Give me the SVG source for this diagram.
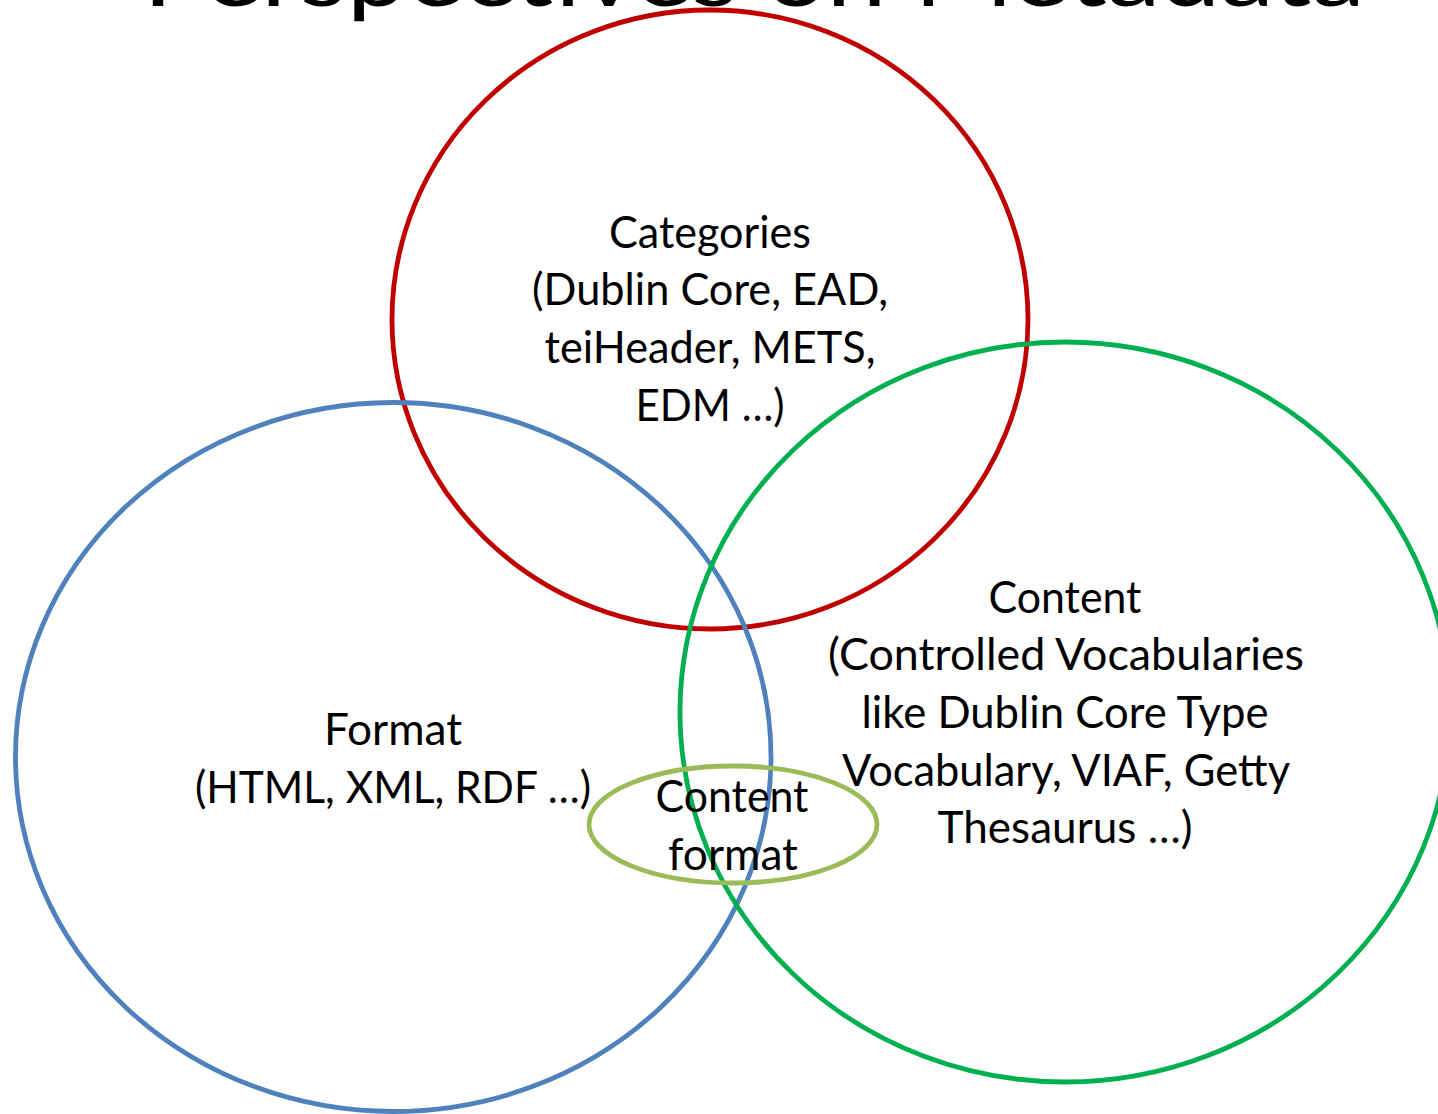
<svg xmlns="http://www.w3.org/2000/svg" width="1438" height="1114" viewBox="0 0 1438 1114">
  <style>
    .lbl { font-family: Lato, "Open Sans", "Liberation Sans", sans-serif; font-size: 45px; fill: #000; text-anchor: middle; }
    .title { font-family: Lato, "Open Sans", "Liberation Sans", sans-serif; font-size: 88px; fill: #000; }
    .ring { fill: none; stroke-width: 4.8; }
  </style>
  <rect width="1438" height="1114" fill="#fff"/>

  <!-- heading, partly above the top edge -->
  <text class="title" x="143" y="6" textLength="1222" lengthAdjust="spacingAndGlyphs">Perspectives on Metadata</text>

  <g id="categories">
    <ellipse class="ring" cx="710" cy="319.5" rx="318" ry="309.5" stroke="#C00000"/>
    <text class="lbl" x="710" y="248" textLength="202" lengthAdjust="spacingAndGlyphs">Categories</text>
    <text class="lbl" x="710" y="305" textLength="356" lengthAdjust="spacingAndGlyphs">(Dublin Core, EAD,</text>
    <text class="lbl" x="710" y="363" textLength="331" lengthAdjust="spacingAndGlyphs">teiHeader, METS,</text>
    <text class="lbl" x="710" y="421" textLength="149" lengthAdjust="spacingAndGlyphs">EDM …)</text>
  </g>

  <g id="format">
    <ellipse class="ring" cx="393.25" cy="757" rx="377.75" ry="354.5" stroke="#4F81BD"/>
    <text class="lbl" x="393" y="745" textLength="138" lengthAdjust="spacingAndGlyphs">Format</text>
    <text class="lbl" x="393" y="803" textLength="396" lengthAdjust="spacingAndGlyphs">(HTML, XML, RDF …)</text>
  </g>

  <g id="content">
    <ellipse class="ring" cx="1065" cy="712" rx="385" ry="370" stroke="#00B050"/>
    <text class="lbl" x="1065" y="613" textLength="153" lengthAdjust="spacingAndGlyphs">Content</text>
    <text class="lbl" x="1066" y="670" textLength="476" lengthAdjust="spacingAndGlyphs">(Controlled Vocabularies</text>
    <text class="lbl" x="1065" y="728" textLength="407" lengthAdjust="spacingAndGlyphs">like Dublin Core Type</text>
    <text class="lbl" x="1066" y="786" textLength="448" lengthAdjust="spacingAndGlyphs">Vocabulary, VIAF, Getty</text>
    <text class="lbl" x="1065" y="843" textLength="255" lengthAdjust="spacingAndGlyphs">Thesaurus …)</text>
  </g>

  <g id="content-format">
    <ellipse class="ring" cx="733" cy="824.5" rx="144" ry="58.5" stroke="#9BBB59"/>
    <text class="lbl" x="732" y="812" textLength="153" lengthAdjust="spacingAndGlyphs">Content</text>
    <text class="lbl" x="733" y="870" textLength="130" lengthAdjust="spacingAndGlyphs">format</text>
  </g>

  <!-- the rings overlap directly; there are no connecting lines -->
  <g id="connectors"/>
</svg>
